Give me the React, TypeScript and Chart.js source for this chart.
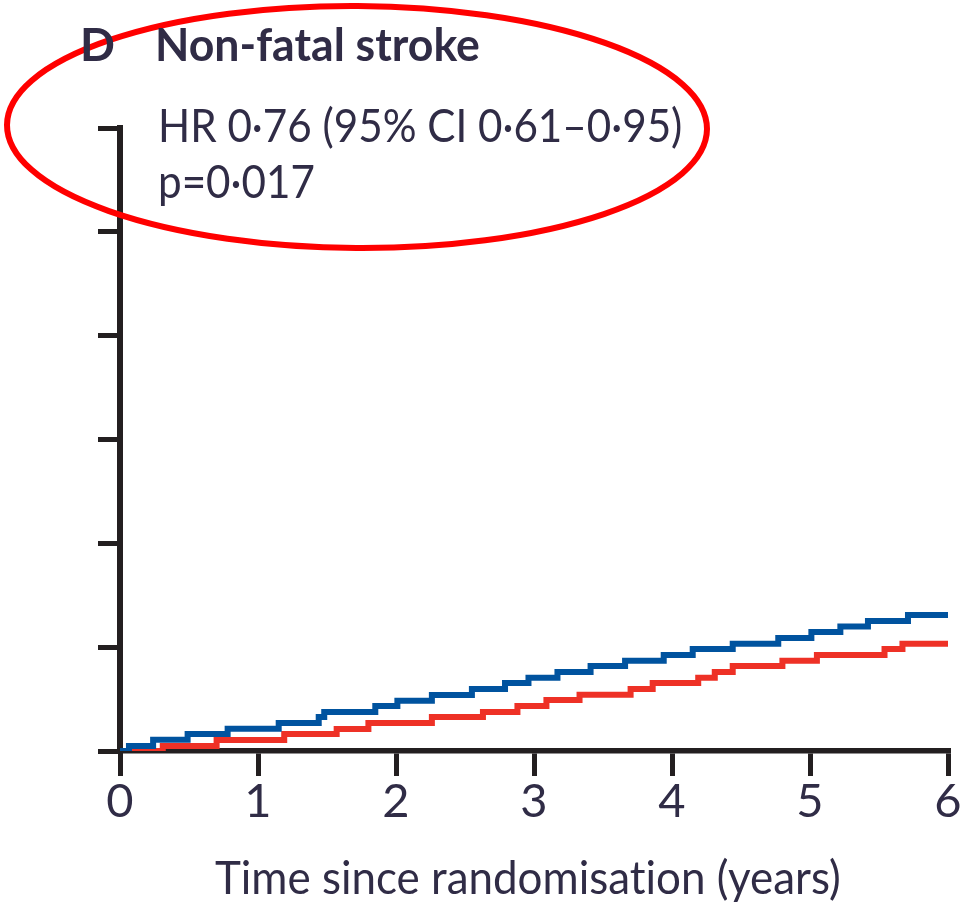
import React, { useEffect, useRef } from "react";
import { Chart, registerables } from "chart.js";

Chart.register(...registerables);

const xTicks = [0, 1, 2, 3, 4, 5, 6];
const yMax = 30;
const yStep = 5;

// Blue group (higher incidence)
const blueTimes = [0, 0.065, 0.24, 0.49, 0.78, 1.15, 1.44, 1.48, 1.85, 2.01, 2.26, 2.55, 2.79, 2.96, 3.17, 3.41, 3.66, 3.94, 4.15, 4.44, 4.77, 5.01, 5.22, 5.42, 5.71, 6.0];
const blueValues = [0, 0.24, 0.54, 0.82, 1.07, 1.35, 1.64, 1.88, 2.17, 2.42, 2.7, 2.99, 3.28, 3.53, 3.81, 4.09, 4.35, 4.62, 4.91, 5.17, 5.44, 5.73, 5.99, 6.26, 6.55, 6.55];

// Red group (lower incidence)
const redTimes = [0, 0.31, 0.7, 1.19, 1.57, 1.8, 2.26, 2.63, 2.88, 3.09, 3.33, 3.7, 3.86, 4.19, 4.31, 4.44, 4.8, 5.05, 5.54, 5.67, 6.0];
const redValues = [0, 0.24, 0.53, 0.82, 1.06, 1.35, 1.64, 1.88, 2.17, 2.46, 2.71, 2.99, 3.28, 3.53, 3.81, 4.09, 4.35, 4.62, 4.91, 5.17, 5.17];

const panelLetter = "D";
const panelTitle = "Non-fatal stroke";
const hrText = "HR 0·76 (95% CI 0·61–0·95)";
const pText = "p=0·017";
const xTitle = "Time since randomisation (years)";

const FONT = "Lato, 'DejaVu Sans Condensed', sans-serif";
const TEXT = "#302c46";
const AXIS = "#231f20";
const BLUE = "#00539f";
const RED = "#ee3126";

const ellipsePlugin = {
  id: "ellipseMark",
  afterDraw(chart: any) {
    const ctx = chart.ctx;
    ctx.save();
    ctx.beginPath();
    ctx.ellipse(357, 127, 350, 121, 0.006, 0, Math.PI * 2);
    ctx.strokeStyle = "#ff0000";
    ctx.lineWidth = 6;
    ctx.stroke();
    ctx.restore();
  },
};

export default function App() {
  const ref = useRef<HTMLCanvasElement | null>(null);

  useEffect(() => {
    if (!ref.current) return;
    const chart = new Chart(ref.current, {
      type: "line",
      data: {
        datasets: [
          {
            data: blueTimes.map((t, i) => ({ x: t, y: blueValues[i] })),
            borderColor: BLUE,
            borderWidth: 6,
            stepped: "before",
            pointRadius: 0,
            fill: false,
            borderCapStyle: "butt",
            borderJoinStyle: "miter",
          },
          {
            data: redTimes.map((t, i) => ({ x: t, y: redValues[i] })),
            borderColor: RED,
            borderWidth: 6,
            stepped: "before",
            pointRadius: 0,
            fill: false,
            borderCapStyle: "butt",
            borderJoinStyle: "miter",
          },
        ],
      },
      options: {
        animation: false,
        responsive: false,
        maintainAspectRatio: false,
        layout: { padding: { left: 0, right: 22, top: 128, bottom: 0 } },
        plugins: {
          legend: { display: false },
          tooltip: { enabled: false },
          title: { display: false },
        },
        scales: {
          x: {
            type: "linear",
            min: 0,
            max: 6,
            z: 1,
            afterFit: (s: any) => {
              s.height = 157;
            },
            afterBuildTicks: (s: any) => {
              s.ticks = xTicks.map((v) => ({ value: v }));
            },
            ticks: {
              stepSize: 1,
              color: TEXT,
              padding: 2,
              maxRotation: 0,
              autoSkip: false,
              font: { family: FONT, size: 47, lineHeight: 1 },
            },
            grid: {
              drawOnChartArea: false,
              drawTicks: true,
              tickLength: 25,
              color: AXIS,
              lineWidth: 5,
            },
            border: { display: true, color: AXIS, width: 5.5 },
            title: { display: false },
          },
          y: {
            type: "linear",
            min: 0,
            max: yMax,
            z: 1,
            afterFit: (s: any) => {
              s.width = 120;
            },
            ticks: { stepSize: yStep, display: false },
            grid: {
              drawOnChartArea: false,
              drawTicks: true,
              tickLength: 22,
              color: AXIS,
              lineWidth: 5,
            },
            border: { display: true, color: AXIS, width: 6 },
          },
        },
      },
      plugins: [ellipsePlugin],
    } as any);
    return () => chart.destroy();
  }, []);

  const textBase: React.CSSProperties = {
    position: "absolute",
    fontFamily: FONT,
    color: TEXT,
    lineHeight: "1",
    whiteSpace: "nowrap",
    transformOrigin: "0 0",
    fontVariantLigatures: "none",
  };

  return (
    <div style={{ position: "fixed", left: 0, top: 0, width: 970, height: 908, background: "#fff" }}>
      <canvas ref={ref} width={970} height={908} style={{ position: "absolute", left: 0, top: 0, width: 970, height: 908 }} />
      <div style={{ ...textBase, left: 80, top: 21, fontSize: 46, fontWeight: 700 }}>{panelLetter}</div>
      <div style={{ ...textBase, left: 155, top: 21, fontSize: 46, fontWeight: 700, transform: "scaleX(0.97)" }}>{panelTitle}</div>
      <div style={{ ...textBase, left: 158, top: 101, fontSize: 47, transform: "scaleX(0.897)" }}>{hrText}</div>
      <div style={{ ...textBase, left: 158, top: 157, fontSize: 47, transform: "scaleX(0.897)" }}>{pText}</div>
      <div style={{ ...textBase, left: 215, top: 854, fontSize: 46, transform: "scaleX(0.955)" }}>{xTitle}</div>
    </div>
  );
}
